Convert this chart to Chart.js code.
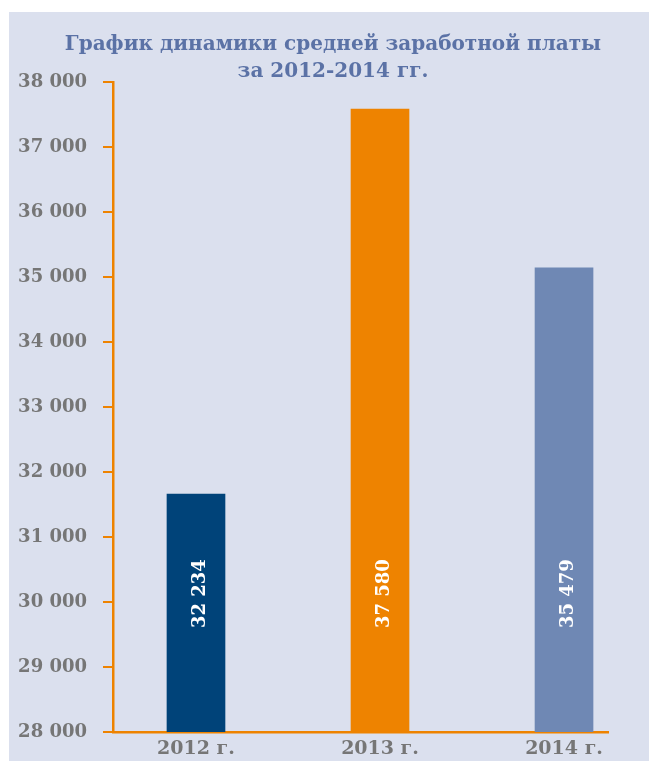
<!DOCTYPE html>
<html><head><meta charset="utf-8">
<script src="https://cdn.jsdelivr.net/npm/chart.js@4/dist/chart.umd.min.js"></script>
<style>html,body{margin:0;padding:0;background:#fff;overflow:hidden}#c{display:block}</style>
</head><body>
<canvas id="c" width="649" height="761"></canvas>
<script>
const categories = ["2012 г.", "2013 г.", "2014 г."];
const barValues = [31660, 37585, 35140];
const valueLabels = ["32 234", "37 580", "35 479"];
const barColors = ["#004379", "#ee8300", "#6f88b4"];
const yTicks = [28000, 38000, 1000];
const titleLines = ["График динамики средней заработной платы", "за 2012-2014 гг."];

const SERIF = "'DejaVu Serif', 'Liberation Serif', serif";
const panelBg = {
  id: 'panelBg',
  beforeDraw(chart) {
    const c = chart.ctx;
    c.save();
    c.fillStyle = '#dbe0ee';
    c.fillRect(9, 12, chart.width - 9, chart.height - 12);
    c.restore();
  }
};
const titlePlugin = {
  id: 'titleText',
  afterDraw(chart) {
    const c = chart.ctx;
    c.save();
    c.fillStyle = '#5b72a6';
    c.font = "bold 20px " + SERIF;
    c.textAlign = 'center';
    c.textBaseline = 'middle';
    c.fillText(titleLines[0], 333, 45);
    c.fillText(titleLines[1], 333, 72);
    c.restore();
  }
};
const valueLabelPlugin = {
  id: 'valueLabels',
  afterDatasetsDraw(chart) {
    const c = chart.ctx;
    const meta = chart.getDatasetMeta(0);
    c.save();
    c.fillStyle = '#ffffff';
    c.font = "bold 18px " + SERIF;
    c.textAlign = 'left';
    c.textBaseline = 'middle';
    meta.data.forEach((bar, i) => {
      c.save();
      c.translate(bar.x + 4, 628);
      c.rotate(-Math.PI / 2);
      c.fillText(valueLabels[i], 0, 0);
      c.restore();
    });
    c.restore();
  }
};

new Chart(document.getElementById('c'), {
  type: 'bar',
  data: {
    datasets: [{
      data: barValues.map((v, i) => ({x: i, y: v})),
      backgroundColor: barColors,
      barThickness: 58,
      borderWidth: 0
    }]
  },
  options: {
    responsive: false,
    animation: false,
    layout: {padding: {top: 82, right: 41, left: 0, bottom: 0}},
    plugins: {legend: {display: false}, tooltip: {enabled: false}, title: {display: false}},
    scales: {
      x: {
        type: 'linear',
        offset: false,
        min: -0.451,
        max: 2.239,
        afterBuildTicks(scale) { scale.ticks = categories.map((_, i) => ({value: i})); },
        afterFit(scale) { scale.height = 29; },
        ticks: {
          callback: (v) => categories[v],
          color: '#767676',
          font: {family: SERIF, size: 19, weight: 'bold'},
          padding: 6,
          maxRotation: 0,
          autoSkip: false
        },
        grid: {display: false, drawTicks: false, offset: false},
        border: {display: true, color: '#ee8300', width: 2.5}
      },
      y: {
        min: yTicks[0],
        max: yTicks[1],
        afterFit(scale) { scale.width = 113; },
        ticks: {
          stepSize: yTicks[2],
          callback: (v) => String(v).replace(/(\d)(?=(\d{3})+$)/, '$1 '),
          color: '#767676',
          font: {family: SERIF, size: 18, weight: 'bold'},
          padding: 16
        },
        grid: {drawOnChartArea: false, drawTicks: true, tickLength: 10, color: '#ee8300', lineWidth: 2},
        border: {display: true, color: '#ee8300', width: 2.5}
      }
    }
  },
  plugins: [panelBg, titlePlugin, valueLabelPlugin]
});
</script>
</body></html>
